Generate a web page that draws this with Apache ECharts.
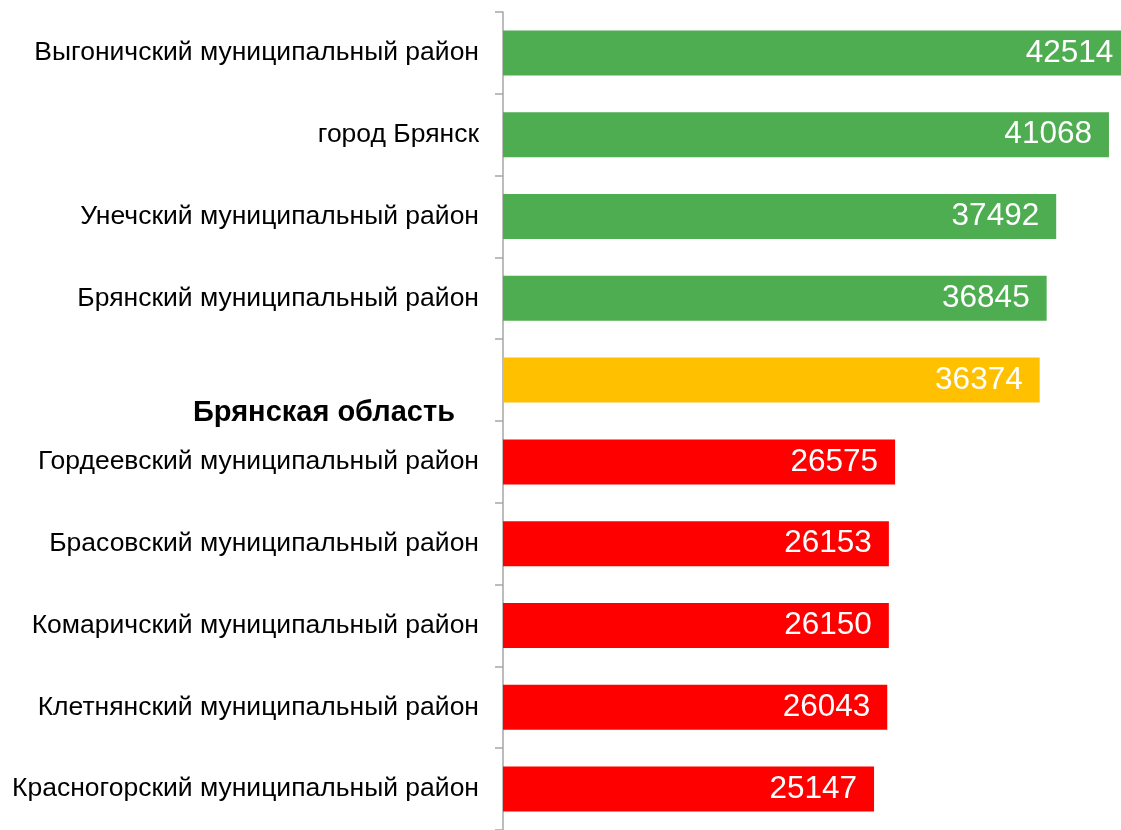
<!DOCTYPE html>
<html>
<head>
<meta charset="utf-8">
<script src="https://cdn.jsdelivr.net/npm/echarts@6/dist/echarts.min.js"></script>
<style>
  html, body { margin: 0; padding: 0; background: #fff; }
  #chart { width: 1121px; height: 830px; }
</style>
</head>
<body>
<div id="chart"></div>
<script>
const districts = [
  'Выгоничский муниципальный район',
  'город Брянск',
  'Унечский муниципальный район',
  'Брянский муниципальный район',
  'Брянская область',
  'Гордеевский муниципальный район',
  'Брасовский муниципальный район',
  'Комаричский муниципальный район',
  'Клетнянский муниципальный район',
  'Красногорский муниципальный район'
];
const salaries = [42514, 41068, 37492, 36845, 36374, 26575, 26153, 26150, 26043, 25147];
const barColors = ['#4EAD51', '#4EAD51', '#4EAD51', '#4EAD51', '#FFC000', '#FF0000', '#FF0000', '#FF0000', '#FF0000', '#FF0000'];
const regionName = 'Брянская область';

const chart = echarts.init(document.getElementById('chart'), null, { renderer: 'canvas' });

// the top bar runs past the right edge of the picture, as in the original
chart.setOption({
  animation: false,
  textStyle: { fontFamily: 'Arial, "Liberation Sans", sans-serif' },
  grid: { left: 503, right: 0, top: 12, bottom: -3, containLabel: false },
  xAxis: {
    type: 'value',
    min: 0,
    max: 41884,
    show: false
  },
  yAxis: {
    type: 'category',
    inverse: true,
    data: districts,
    axisLine: { show: true, lineStyle: { color: '#A6A6A6', width: 1.5 } },
    axisTick: { show: true, length: 8, lineStyle: { color: '#A6A6A6', width: 1.5 } },
    axisLabel: {
      margin: 24,
      color: '#000',
      fontSize: 26.5,
      fontFamily: 'Arial, "Liberation Sans", sans-serif',
      formatter: (v) => v === regionName ? '{b|' + v + '}' : v,
      rich: {
        b: { fontWeight: 'bold', fontSize: 29, color: '#000', padding: [66, 24, 0, 0] }
      }
    }
  },
  series: [{
    type: 'bar',
    clip: false,
    barCategoryGap: '45%',
    data: salaries.map((v, i) => ({ value: v, itemStyle: { color: barColors[i] } })),
    label: {
      show: true,
      position: 'insideRight',
      distance: 17,
      color: '#fff',
      fontSize: 31.5,
      fontFamily: 'Arial, "Liberation Sans", sans-serif'
    }
  }]
});
</script>
</body>
</html>
